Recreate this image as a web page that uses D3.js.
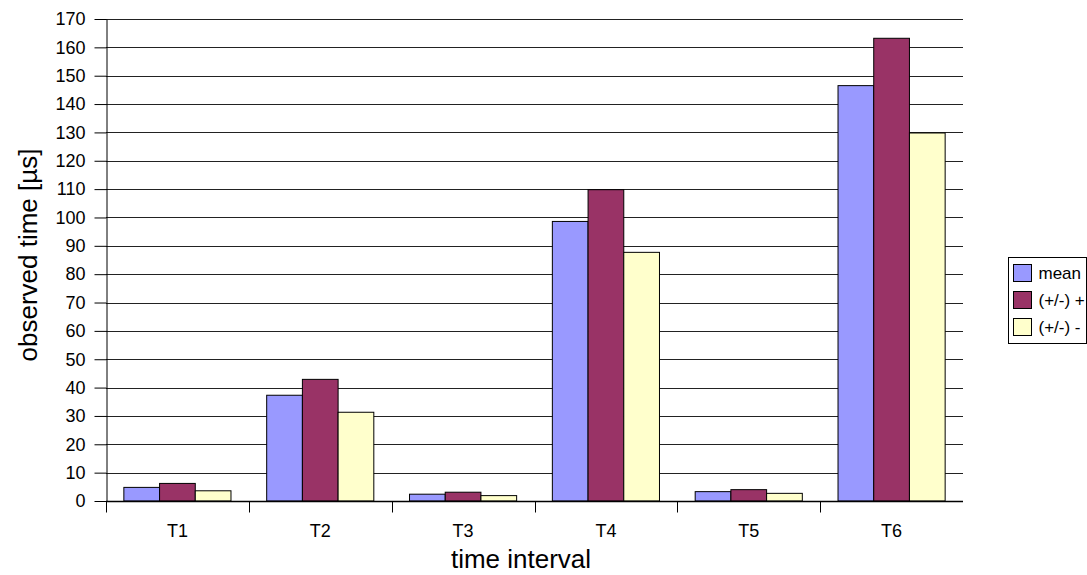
<!DOCTYPE html>
<html>
<head>
<meta charset="utf-8">
<script src="https://cdn.jsdelivr.net/npm/d3@7"></script>
<style>
  body { margin: 0; background: #fff; }
  svg { font-family: Arial, "Liberation Sans", sans-serif; }
</style>
</head>
<body>
<svg id="chart" width="1087" height="575"></svg>
<script>
var categories = ["T1", "T2", "T3", "T4", "T5", "T6"]
var seriesNames = ["mean", "(+/-) +", "(+/-) -"]
var meanValues = [4.8, 37.3, 2.4, 98.6, 3.3, 146.5]
var plusValues = [6.2, 42.9, 3.1, 109.8, 4.0, 163.2]
var minusValues = [3.6, 31.3, 1.9, 87.7, 2.7, 129.8]
var colors = ["#9999ff", "#993366", "#ffffcc"]
var yTicks = d3.range(0, 171, 10)

var svg = d3.select("svg#chart")
var margin = {left: 106, right: 124, top: 19, bottom: 74}
var width = 1087, height = 575

var series = [meanValues, plusValues, minusValues]
var data = categories.map((c, i) => ({
  name: c,
  values: series.map((s, j) => ({key: seriesNames[j], value: s[i]}))
}))

var x = d3.scaleBand()
    .domain(categories)
    .range([margin.left, width - margin.right])
var x1 = d3.scaleBand()
    .domain(seriesNames)
    .range([x.bandwidth() / 8, x.bandwidth() * 7 / 8])
var y = d3.scaleLinear()
    .domain([0, 170])
    .range([height - margin.bottom, margin.top])

// gridlines
svg.append("g")
    .selectAll("line")
    .data(yTicks.slice(1))
    .enter().append("line")
      .attr("x1", margin.left)
      .attr("x2", width - margin.right)
      .attr("y1", d => Math.round(y(d)) + 0.5)
      .attr("y2", d => Math.round(y(d)) + 0.5)
      .attr("stroke", "#222")
      .attr("stroke-width", 1)

// bars
svg.append("g")
  .selectAll("g")
  .data(data)
  .enter().append("g")
    .attr("transform", d => `translate(${x(d.name)},0)`)
  .selectAll("rect")
  .data(d => d.values)
  .enter().append("rect")
    .attr("x", d => x1(d.key))
    .attr("y", d => y(d.value))
    .attr("width", x1.bandwidth())
    .attr("height", d => y(0) - y(d.value))
    .attr("fill", (d, i) => colors[i])
    .attr("stroke", "#000")
    .attr("stroke-width", 1)

// y axis
var yAxis = svg.append("g")
    .attr("transform", `translate(${margin.left + 0.5},0)`)
    .call(d3.axisLeft(y).tickValues(yTicks).tickSize(12).tickPadding(9).tickSizeOuter(0))
yAxis.selectAll("text").attr("font-size", 18).attr("fill", "#000").attr("font-family", "Arial, Liberation Sans, sans-serif")
yAxis.selectAll("line, path").attr("stroke", "#000")

// x axis with ticks between categories
var xAxis = svg.append("g")
    .attr("transform", `translate(0,${y(0) + 0.5})`)
xAxis.append("line")
    .attr("x1", margin.left).attr("x2", width - margin.right)
    .attr("stroke", "#000").attr("stroke-width", 1.5)
xAxis.selectAll("line.tk")
    .data(categories)
    .enter().append("line")
      .attr("class", "tk")
      .attr("x1", d => Math.round(x(d)) + 0.5)
      .attr("x2", d => Math.round(x(d)) + 0.5)
      .attr("y1", 0).attr("y2", 11)
      .attr("stroke", "#000")
xAxis.selectAll("text")
    .data(categories)
    .enter().append("text")
      .attr("x", d => x(d) + x.bandwidth() / 2)
      .attr("y", 35)
      .attr("text-anchor", "middle")
      .attr("font-size", 18)
      .text(d => d)

// axis titles
svg.append("text")
    .attr("x", 521)
    .attr("y", 568)
    .attr("text-anchor", "middle")
    .attr("font-size", 26)
    .text("time interval")
svg.append("text")
    .attr("transform", "translate(37,255) rotate(-90)")
    .attr("text-anchor", "middle")
    .attr("font-size", 26)
    .text("observed time [µs]")

// legend
var legend = svg.append("g").attr("transform", "translate(1008.5,257.5)")
legend.append("rect")
    .attr("width", 78).attr("height", 86)
    .attr("fill", "#fff").attr("stroke", "#000")
var item = legend.selectAll("g")
    .data(seriesNames)
    .enter().append("g")
      .attr("transform", (d, i) => `translate(5,${7 + i * 27})`)
item.append("rect")
    .attr("width", 18).attr("height", 17)
    .attr("fill", (d, i) => colors[i])
    .attr("stroke", "#000")
item.append("text")
    .attr("x", 25).attr("y", 14.5)
    .attr("font-size", 17)
    .text(d => d)
</script>
</body>
</html>
